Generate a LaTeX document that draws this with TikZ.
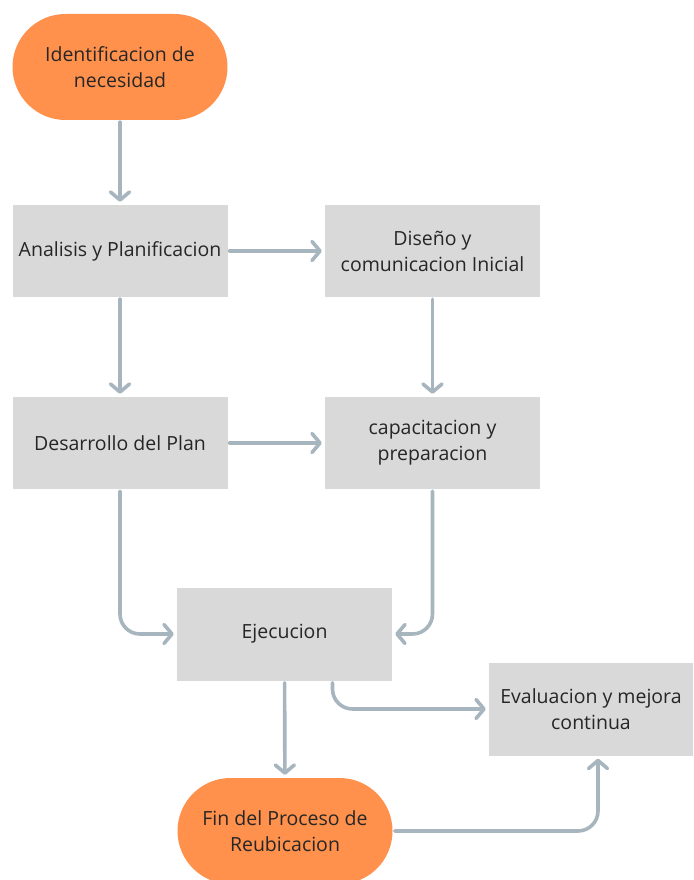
\documentclass[tikz,border=0pt]{standalone}
\usepackage{fontspec}
\setmainfont{Open Sans}
\usepackage{xcolor}
\usetikzlibrary{arrows.meta,positioning,calc}
\definecolor{pillorange}{HTML}{FF914D}
\definecolor{boxgray}{HTML}{D9D9D9}
\definecolor{linkgray}{HTML}{A7B5BE}
\definecolor{txt}{HTML}{262626}
\begin{document}
\begin{tikzpicture}[x=1pt,y=-1pt,
  >={Straight Barb[length=8pt,width=19pt,line cap=round,line join=round]},
  pill/.style={rectangle,fill=pillorange,rounded corners=53pt,minimum width=215pt,minimum height=106pt,
    align=center,text=txt,font=\fontsize{19.5}{26}\selectfont},
  box/.style={rectangle,fill=boxgray,minimum width=215pt,minimum height=92pt,
    align=center,text=txt,font=\fontsize{19.5}{26}\selectfont},
  link/.style={->,draw=linkgray,line width=3.6pt,line cap=round,rounded corners=20pt,
    shorten <=2pt,shorten >=3pt}]
  \useasboundingbox (0,0) rectangle (693,880);
  % nodes
  \node[pill](id) at (120,67){Identificacion de\\necesidad};
  \node[box](ap) at (120,251){Analisis y Planificacion};
  \node[box](dc) at (432.5,251){Diseño y\\comunicacion Inicial};
  \node[box](dp) at (120,443){Desarrollo del Plan};
  \node[box](cp) at (432.5,443){capacitacion y\\preparacion};
  \node[box,minimum height=93pt](ej) at (284.5,634){Ejecucion};
  \node[box,minimum width=204pt,minimum height=93pt](ev) at (591,709){Evaluacion y mejora\\continua};
  \node[pill](fin) at (285,831){Fin del Proceso de\\Reubicacion};
  % links
  \draw[link](id)--(ap);
  \draw[link](ap)--(dc);
  \draw[link](ap)--(dp);
  \draw[link](dc)--(cp);
  \draw[link](dp)--(cp);
  \draw[link](dp.south)|-(ej.west);
  \draw[link](cp.south)|-(ej.east);
  \draw[link](ej)--(fin);
  \draw[link]([xshift=48pt]ej.south)|-(ev.west);
  \draw[link](fin.east)-|([xshift=7pt]ev.south);
\end{tikzpicture}
\end{document}
